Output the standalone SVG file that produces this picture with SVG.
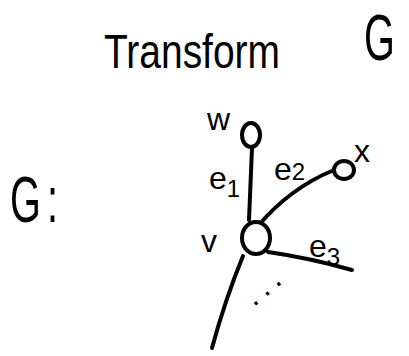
<svg xmlns="http://www.w3.org/2000/svg" width="409" height="356" viewBox="0 0 409 356">
<style>
.ln{fill:none;stroke:#000;stroke-width:4;stroke-linecap:round;stroke-linejoin:round}
.nd{fill:#fff;stroke:#000;stroke-width:4}
.t{font-family:"Liberation Sans",Arial,sans-serif;fill:#000}
.lb{font-family:"Liberation Sans",Arial,sans-serif;fill:#000;font-size:32px}
.sb{font-size:24px}
</style>
<rect width="409" height="356" fill="#fff"/>
<g id="title">
<text class="t" x="104" y="68" font-size="48" textLength="176" lengthAdjust="spacingAndGlyphs">Transform</text>
<text class="t" font-size="64" transform="translate(364,60) scale(0.62,1)">G</text>
</g>
<g id="graph-label">
<text class="t" font-size="64" transform="translate(10,222) scale(0.62,1)">G<tspan dx="10">:</tspan></text>
</g>
<g id="connectors">
<path class="ln" d="M252,148 L249,220"/>
<path class="ln" d="M258,226 Q290,188 334,170"/>
<path class="ln" d="M268,252 Q310,258 352,270"/>
<path class="ln" d="M243,256 Q225,300 212,348"/>
</g>
<g id="node-w">
<ellipse class="nd" cx="251" cy="135" rx="9" ry="12"/>
<text class="lb" x="207" y="130">w</text>
</g>
<g id="node-x">
<ellipse class="nd" cx="344" cy="170" rx="10" ry="9"/>
<text class="lb" x="354" y="162">x</text>
</g>
<g id="node-v">
<ellipse class="nd" cx="256" cy="238" rx="14" ry="16"/>
<text class="lb" x="201" y="252">v</text>
</g>
<g id="edge-labels">
<text class="lb" x="209" y="189">e<tspan class="sb" dy="8">1</tspan></text>
<text class="lb" x="274" y="180">e<tspan class="sb" dy="0">2</tspan></text>
<text class="lb" x="309" y="257">e<tspan class="sb" dy="8">3</tspan></text>
<text class="lb" x="250" y="303" letter-spacing="6" transform="rotate(-40 258 300)">...</text>
</g>
</svg>
